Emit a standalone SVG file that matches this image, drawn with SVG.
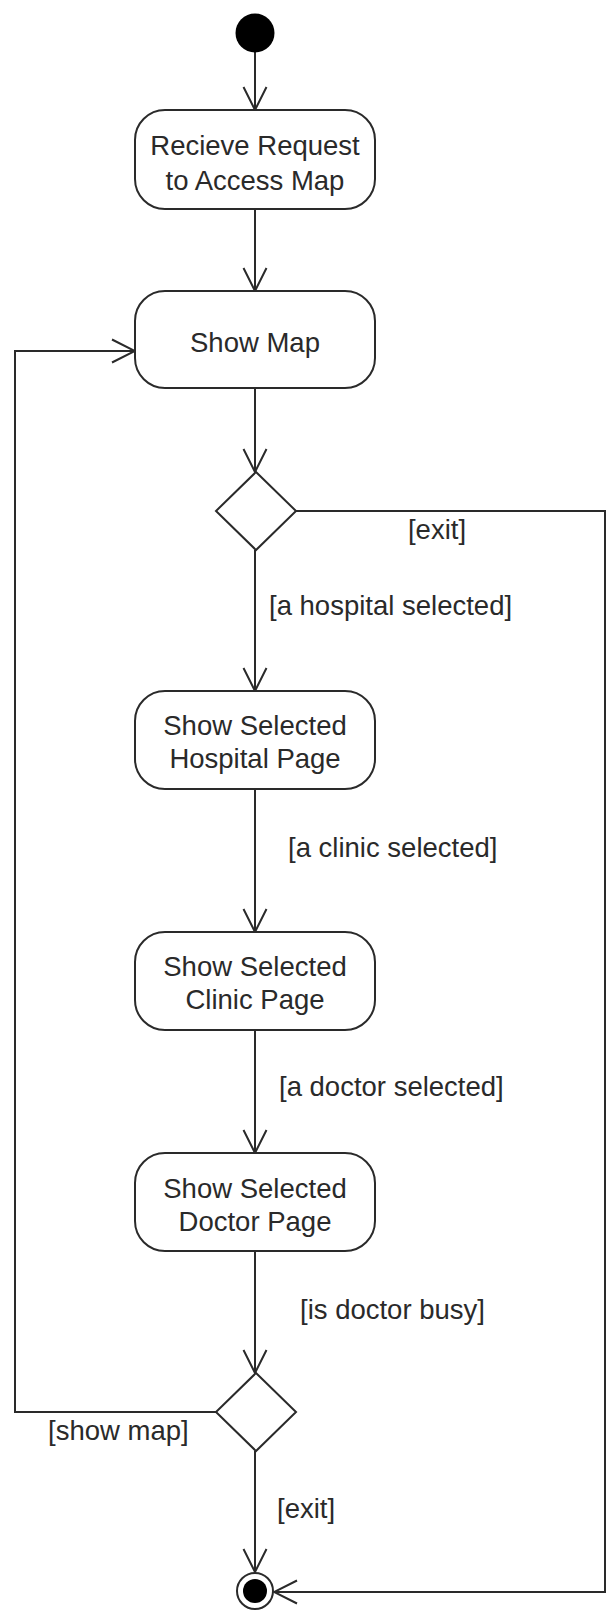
<svg xmlns="http://www.w3.org/2000/svg" width="608" height="1610" viewBox="0 0 608 1610">
  <style>
    .act { fill: #ffffff; stroke: #2a2a2a; stroke-width: 2; }
    .dec { fill: #ffffff; stroke: #2a2a2a; stroke-width: 2; }
    .flow { fill: none; stroke: #2a2a2a; stroke-width: 2; marker-end: url(#open); }
    .lbl { font-family: "Liberation Sans", Arial, sans-serif; font-size: 27.5px; fill: #2a2a2a; }
    .mid { text-anchor: middle; }
  </style>
  <defs>
    <marker id="open" viewBox="-26 -14 28 28" refX="0" refY="0" markerWidth="28" markerHeight="28" markerUnits="userSpaceOnUse" orient="auto">
      <path d="M-23,-11.5 L0,0 L-23,11.5" fill="none" stroke="#2a2a2a" stroke-width="2"/>
    </marker>
  </defs>
  <rect width="608" height="1610" fill="#ffffff"/>

  <!-- control flows -->
  <g id="flows">
    <path class="flow" d="M255,52 L255,110"/>
    <path class="flow" d="M255,209 L255,291"/>
    <path class="flow" d="M255,388 L255,472"/>
    <path class="flow" d="M255,550 L255,691"/>
    <path class="flow" d="M255,789 L255,932"/>
    <path class="flow" d="M255,1030 L255,1153"/>
    <path class="flow" d="M255,1251 L255,1373"/>
    <path class="flow" d="M255,1451 L255,1572"/>
    <path class="flow" d="M216,1412 L15,1412 L15,351 L135,351"/>
    <path class="flow" d="M296,511 L605,511 L605,1592 L274,1592"/>
    <text class="lbl" x="269" y="615">[a hospital selected]</text>
    <text class="lbl" x="288" y="857">[a clinic selected]</text>
    <text class="lbl" x="279" y="1096">[a doctor selected]</text>
    <text class="lbl" x="300" y="1319">[is doctor busy]</text>
    <text class="lbl" x="277" y="1518">[exit]</text>
    <text class="lbl" x="48" y="1440">[show map]</text>
    <text class="lbl mid" x="437" y="539">[exit]</text>
  </g>

  <g id="start">
    <circle cx="255" cy="33" r="19.5" fill="#000000"/>
  </g>

  <g id="receive-request">
    <rect class="act" x="135" y="110" width="240" height="99" rx="30" ry="30"/>
    <text class="lbl mid" x="255" y="155">Recieve Request</text>
    <text class="lbl mid" x="255" y="190">to Access Map</text>
  </g>

  <g id="show-map">
    <rect class="act" x="135" y="291" width="240" height="97" rx="30" ry="30"/>
    <text class="lbl mid" x="255" y="352">Show Map</text>
  </g>

  <g id="decision-map">
    <polygon class="dec" points="256,472 296,511 256,550 216,511"/>
  </g>

  <g id="hospital-page">
    <rect class="act" x="135" y="691" width="240" height="98" rx="30" ry="30"/>
    <text class="lbl mid" x="255" y="735">Show Selected</text>
    <text class="lbl mid" x="255" y="768">Hospital Page</text>
  </g>

  <g id="clinic-page">
    <rect class="act" x="135" y="932" width="240" height="98" rx="30" ry="30"/>
    <text class="lbl mid" x="255" y="976">Show Selected</text>
    <text class="lbl mid" x="255" y="1009">Clinic Page</text>
  </g>

  <g id="doctor-page">
    <rect class="act" x="135" y="1153" width="240" height="98" rx="30" ry="30"/>
    <text class="lbl mid" x="255" y="1198">Show Selected</text>
    <text class="lbl mid" x="255" y="1231">Doctor Page</text>
  </g>

  <g id="decision-busy">
    <polygon class="dec" points="256,1373 296,1412 256,1451 216,1412"/>
  </g>

  <g id="final">
    <circle cx="255" cy="1591" r="18" fill="#ffffff" stroke="#2a2a2a" stroke-width="2"/>
    <circle cx="255" cy="1591" r="12" fill="#000000"/>
  </g>
</svg>
